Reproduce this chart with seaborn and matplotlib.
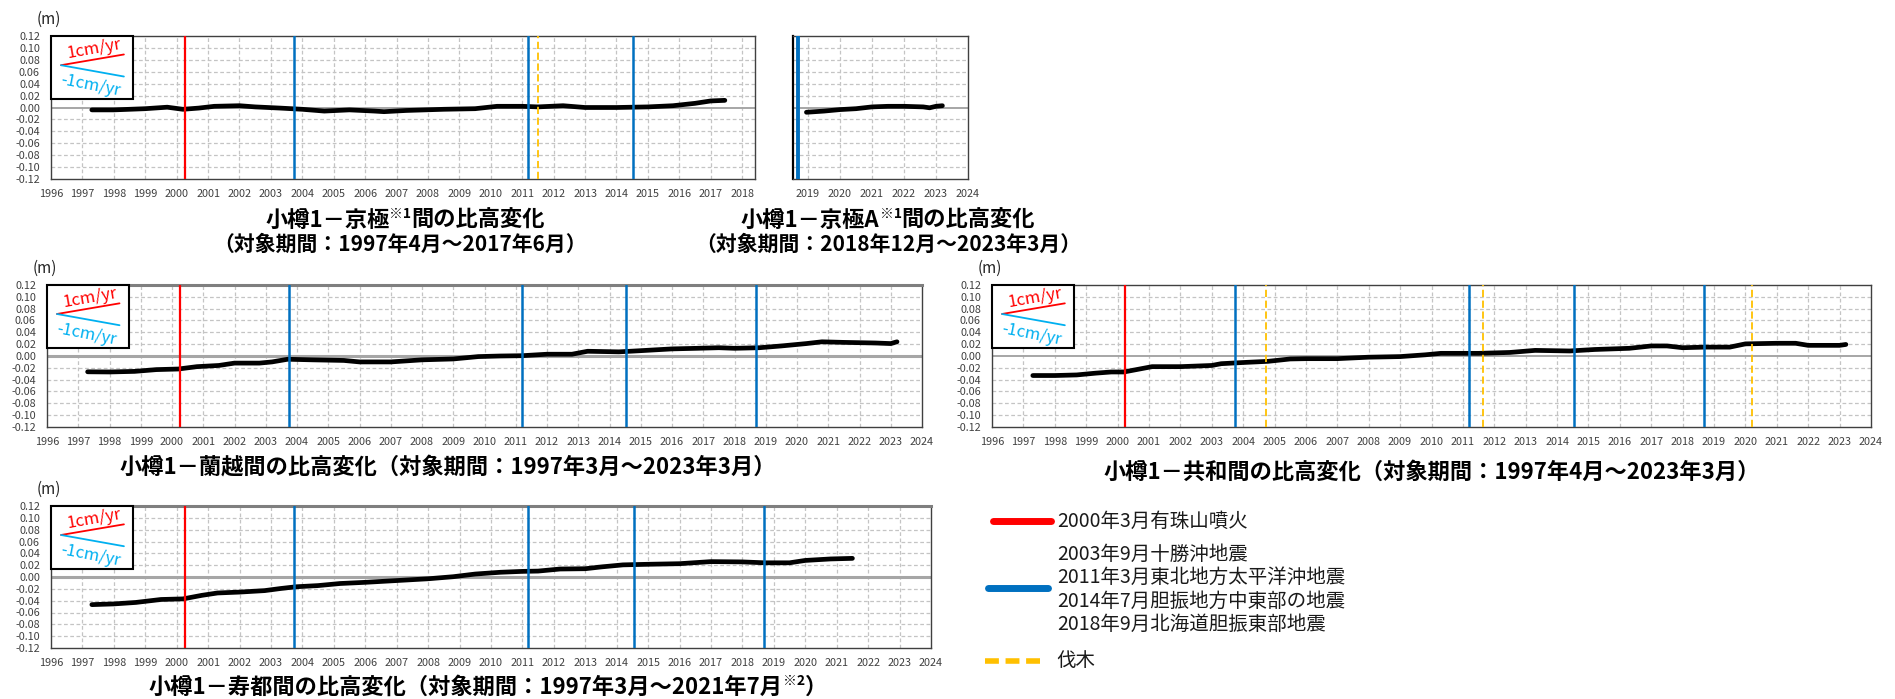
import numpy as np
import pandas as pd
import matplotlib
matplotlib.use("Agg")
import matplotlib.pyplot as plt
import seaborn as sns
from matplotlib.patches import Rectangle
from matplotlib.lines import Line2D
from matplotlib.ticker import FormatStrFormatter

# ---------------- data ----------------
kyogoku_t = [1997.3, 1998.0, 1999.0, 1999.7, 2000.2, 2000.7, 2001.2, 2002.0, 2002.5, 2003.3,
             2004.0, 2004.7, 2005.5, 2006.3, 2006.6, 2007.3, 2008.5, 2009.5, 2010.2, 2011.0,
             2011.5, 2012.3, 2013.0, 2014.0, 2015.0, 2015.8, 2016.5, 2017.0, 2017.45]
kyogoku_v = [-0.004, -0.004, -0.002, 0.0005, -0.003, -0.001, 0.002, 0.003, 0.001, -0.001,
             -0.003, -0.006, -0.004, -0.006, -0.007, -0.005, -0.003, -0.002, 0.002, 0.002,
             0.001, 0.003, 0.000, 0.000, 0.001, 0.003, 0.007, 0.011, 0.012]

kyogokuA_t = [2018.95, 2019.5, 2020.0, 2020.5, 2021.0, 2021.5, 2022.0, 2022.6, 2022.8, 2023.0, 2023.2]
kyogokuA_v = [-0.008, -0.006, -0.0035, -0.002, 0.001, 0.002, 0.002, 0.001, -0.0005, 0.002, 0.003]

rankoshi_t = [1997.3, 1998.0, 1998.8, 1999.5, 2000.2, 2000.8, 2001.5, 2002.0, 2002.8, 2003.2,
              2003.7, 2004.5, 2005.5, 2006.0, 2007.0, 2008.0, 2009.0, 2009.8, 2010.5, 2011.2,
              2012.0, 2012.8, 2013.3, 2014.3, 2015.0, 2016.0, 2016.8, 2017.5, 2018.0, 2018.8,
              2019.5, 2020.3, 2020.8, 2021.5, 2022.5, 2023.0, 2023.2]
rankoshi_v = [-0.0267, -0.027, -0.026, -0.023, -0.022, -0.018, -0.016, -0.012, -0.012, -0.010,
              -0.0055, -0.0065, -0.0075, -0.010, -0.010, -0.0065, -0.005, -0.001, 0.000, 0.0005,
              0.003, 0.003, 0.008, 0.007, 0.009, 0.012, 0.013, 0.014, 0.013, 0.014,
              0.017, 0.021, 0.024, 0.023, 0.022, 0.021, 0.024]

kyowa_t = [1997.3, 1998.0, 1998.7, 1999.3, 1999.8, 2000.2, 2000.7, 2001.1, 2002.0, 2003.0,
           2003.3, 2004.0, 2004.8, 2005.5, 2006.0, 2007.0, 2008.0, 2009.0, 2009.8, 2010.3,
           2011.5, 2012.5, 2013.3, 2014.4, 2015.2, 2016.3, 2017.0, 2017.5, 2018.0, 2018.7,
           2019.5, 2020.0, 2021.0, 2021.6, 2022.0, 2023.0, 2023.2]
kyowa_v = [-0.033, -0.033, -0.032, -0.029, -0.027, -0.027, -0.022, -0.018, -0.018, -0.016,
           -0.013, -0.011, -0.009, -0.005, -0.0045, -0.0045, -0.002, -0.001, 0.002, 0.0045,
           0.0045, 0.006, 0.0095, 0.0085, 0.011, 0.013, 0.017, 0.017, 0.014, 0.015,
           0.015, 0.0205, 0.0215, 0.0215, 0.018, 0.018, 0.0195]

suttsu_t = [1997.3, 1998.0, 1998.7, 1999.5, 2000.2, 2000.8, 2001.3, 2002.0, 2002.8, 2003.3,
            2003.8, 2004.5, 2005.2, 2006.0, 2007.0, 2008.0, 2008.8, 2009.5, 2010.3, 2011.0,
            2011.5, 2012.2, 2013.0, 2013.5, 2014.2, 2015.0, 2016.0, 2017.0, 2018.0, 2018.7,
            2019.5, 2020.0, 2020.8, 2021.5]
suttsu_v = [-0.0467, -0.0455, -0.043, -0.038, -0.037, -0.031, -0.027, -0.0255, -0.023, -0.0195,
            -0.0165, -0.0145, -0.011, -0.009, -0.006, -0.003, 0.0005, 0.005, 0.008, 0.0095,
            0.010, 0.0135, 0.014, 0.017, 0.0205, 0.0215, 0.0225, 0.026, 0.0255, 0.024,
            0.024, 0.028, 0.0305, 0.0315]

eruption_dates = [2000.25]
quake_dates = [2003.73, 2011.19, 2014.54, 2018.68]
logging_kyogoku = [2011.5]
logging_kyowa = [2004.73, 2011.65, 2020.2]

yticks = [-0.12, -0.10, -0.08, -0.06, -0.04, -0.02, 0.00, 0.02, 0.04, 0.06, 0.08, 0.10, 0.12]
years_full = list(range(1996, 2025))
years_p1 = list(range(1996, 2019))
years_p2 = list(range(2019, 2025))

legend_eruption = "2000年3月有珠山噴火"
legend_quakes = ["2003年9月十勝沖地震", "2011年3月東北地方太平洋沖地震",
                 "2014年7月胆振地方中東部の地震", "2018年9月北海道胆振東部地震"]
legend_logging = "伐木"

# ---------------- style ----------------
sns.set_theme(style="white")
plt.rcParams['font.family'] = ['Noto Sans CJK JP', 'DejaVu Sans']
plt.rcParams['axes.unicode_minus'] = False

W, H = 1895, 699
fig = plt.figure(figsize=(W / 100, H / 100), dpi=100)
fig.patch.set_facecolor('white')

RED = '#FF0000'
BLUE = '#0070C0'
ORANGE = '#FFC000'
CYAN = '#00B0F0'
GRID = '#c4c4c4'


def rect(l, t, r, b):
    return [l / W, 1 - b / H, (r - l) / W, (b - t) / H]


panels = [
    dict(t=kyogoku_t, v=kyogoku_v, box=(51, 36, 755, 179), xlim=(1996, 2018.41), years=years_p1,
         quakes=[q for q in quake_dates if q < 2018.4], erupt=True, logging=logging_kyogoku,
         ylab=True, inset=True, thick_top=False),
    dict(t=kyogokuA_t, v=kyogokuA_v, box=(793, 36, 968, 179), xlim=(2018.53, 2024), years=years_p2,
         quakes=[2018.68], erupt=False, logging=[], ylab=False, inset=False, thick_top=False),
    dict(t=rankoshi_t, v=rankoshi_v, box=(47, 285, 922, 427), xlim=(1996, 2024), years=years_full,
         quakes=quake_dates, erupt=True, logging=[], ylab=True, inset=True, thick_top=True),
    dict(t=kyowa_t, v=kyowa_v, box=(992, 285, 1871, 427), xlim=(1996, 2024), years=years_full,
         quakes=quake_dates, erupt=True, logging=logging_kyowa, ylab=True, inset=True, thick_top=False),
    dict(t=suttsu_t, v=suttsu_v, box=(51, 506, 931, 648), xlim=(1996, 2024), years=years_full,
         quakes=quake_dates, erupt=True, logging=[], ylab=True, inset=True, thick_top=True),
]

for p in panels:
    l, t, r, b = p['box']
    ax = fig.add_axes(rect(l, t, r, b))
    ax.set_facecolor('white')
    wpx, hpx = r - l, b - t
    # grid
    for yv in yticks:
        if abs(yv) < 1e-9 or abs(abs(yv) - 0.12) < 1e-9:
            continue
        ax.axhline(yv, color=GRID, lw=0.9, ls=(0, (3, 2)), zorder=1)
    for xv in p['years']:
        if p['xlim'][0] < xv < p['xlim'][1]:
            ax.axvline(xv, color=GRID, lw=0.9, ls=(0, (3, 2)), zorder=1)
    ax.axhline(0, color='#a6a6a6', lw=2.2 if p['thick_top'] else 1.4, zorder=2)
    # data line
    df = pd.DataFrame({'year': p['t'], 'dh': p['v']})
    sns.lineplot(data=df, x='year', y='dh', ax=ax, color='black', lw=3.4, zorder=5,
                 estimator=None, sort=True)
    # events
    if p['erupt']:
        for e in eruption_dates:
            ax.axvline(e, color=RED, lw=1.6, zorder=6)
    for q in p['quakes']:
        ax.axvline(q, color=BLUE, lw=1.8 if p['ylab'] else 2.8, zorder=6)
    for g in p['logging']:
        ax.axvline(g, color=ORANGE, lw=1.3, ls=(0, (4, 2)), zorder=6)
    ax.set_xlim(*p['xlim'])
    ax.set_ylim(-0.12, 0.12)
    ax.set_xticks(p['years'])
    ax.set_xticklabels([str(y) for y in p['years']])
    ax.set_yticks(yticks)
    ax.yaxis.set_major_formatter(FormatStrFormatter('%.2f'))
    if not p['ylab']:
        ax.set_yticklabels([])
    ax.tick_params(axis='both', length=0, labelsize=7.8, colors='#404040')
    ax.tick_params(axis='x', pad=7)
    ax.tick_params(axis='y', pad=8)
    ax.set_xlabel('')
    ax.set_ylabel('')
    for s in ax.spines.values():
        s.set_color('#404040')
        s.set_linewidth(1.0)
        s.set_visible(True)
    if p['thick_top']:
        ax.spines['top'].set_linewidth(2.2)
        ax.spines['top'].set_color('#7f7f7f')
    if not p['ylab']:
        ax.spines['left'].set_color('black')
        ax.spines['left'].set_linewidth(1.6)
    # inset scale box
    if p['inset']:
        bw, bh = 82 / wpx, 63 / hpx
        ax.add_patch(Rectangle((0, 1 - bh), bw, bh, transform=ax.transAxes, facecolor='white',
                               edgecolor='black', lw=1.5, zorder=8, clip_on=False))
        x0 = p['xlim'][0] + 0.32
        ax.plot([x0, x0 + 2], [0.071, 0.089], color=RED, lw=1.3, zorder=9)
        ax.plot([x0, x0 + 2], [0.071, 0.052], color=CYAN, lw=1.3, zorder=9)
        ax.text(43 / wpx, 1 - 13 / hpx, "1cm/yr", transform=ax.transAxes, color=RED,
                fontsize=12, rotation=10, ha='center', va='center', zorder=10)
        ax.text(40 / wpx, 1 - 49 / hpx, "-1cm/yr", transform=ax.transAxes, color=CYAN,
                fontsize=12, rotation=-11, ha='center', va='center', zorder=10)
        fig.text((l - 2) / W, 1 - (t - 17) / H, "(m)", fontsize=11, ha='center', va='center',
                 color='#262626')


renderer = fig.canvas.get_renderer()


def rich_text(parts, cx, base_y):
    objs = []
    for s, fs, rise in parts:
        txt = fig.text(0, 0, s, fontsize=fs, fontweight='bold', ha='left', va='baseline',
                       color='black')
        objs.append((txt, rise))
    widths = [o.get_window_extent(renderer).width for o, _ in objs]
    x = cx - sum(widths) / 2
    for (o, rise), w in zip(objs, widths):
        o.set_position((x / W, 1 - (base_y - rise) / H))
        x += w


TS = 16
TS2 = 15
SS = 10
rich_text([("小樽1－京極", TS, 0), ("※1", SS, 9), ("間の比高変化", TS, 0)], 405, 227)
rich_text([("（対象期間：1997年4月～2017年6月）", TS2, 0)], 400, 251)
rich_text([("小樽1－京極A", TS, 0), ("※1", SS, 9), ("間の比高変化", TS, 0)], 888, 227)
rich_text([("（対象期間：2018年12月～2023年3月）", TS2, 0)], 888, 251)
rich_text([("小樽1－蘭越間の比高変化（対象期間：1997年3月～2023年3月）", TS, 0)], 448, 473)
rich_text([("小樽1－共和間の比高変化（対象期間：1997年4月～2023年3月）", TS, 0)], 1432, 479)
rich_text([("小樽1－寿都間の比高変化（対象期間：1997年3月～2021年7月", TS, 0), ("※2", SS, 9),
           ("）", TS, 0)], 488, 694)

# legend
LS = 14
fig.add_artist(Line2D([993 / W, 1051 / W], [1 - 521 / H] * 2, color=RED, lw=5))
fig.text(1057 / W, 1 - 521 / H, legend_eruption, fontsize=LS, va='center', ha='left', color='#1a1a1a')
fig.add_artist(Line2D([988 / W, 1048 / W], [1 - 588 / H] * 2, color=BLUE, lw=5))
for i, s in enumerate(legend_quakes):
    fig.text(1057 / W, 1 - (554 + 23.5 * i) / H, s, fontsize=LS, va='center', ha='left', color='#1a1a1a')
fig.add_artist(Line2D([985 / W, 1045 / W], [1 - 661 / H] * 2, color=ORANGE, lw=4, ls=(0, (2.5, 1.2))))
fig.text(1056 / W, 1 - 661 / H, legend_logging, fontsize=LS, va='center', ha='left', color='#1a1a1a')

fig.savefig("out.png", dpi=100, facecolor='white')
